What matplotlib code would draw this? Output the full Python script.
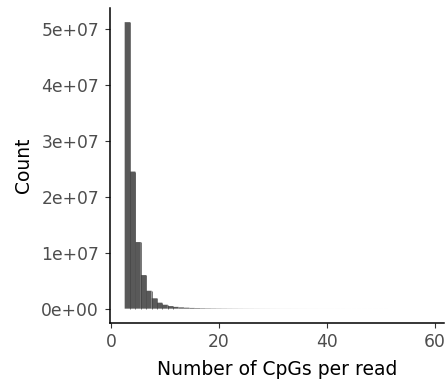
import matplotlib
matplotlib.use("Agg")
import matplotlib.pyplot as plt

plt.rcParams['font.family'] = ['DejaVu Sans']

# CpGs per read (bin centres) and read counts
cpg_bins = list(range(3, 59))
read_counts = [
    5.12e7, 2.45e7, 1.19e7, 6.0e6, 3.2e6, 1.85e6, 1.07e6, 7.0e5, 4.6e5, 3.2e5,
    2.3e5, 1.7e5, 1.3e5, 1.0e5, 8.0e4, 6.4e4, 5.2e4, 4.3e4, 3.6e4, 3.0e4,
    2.5e4, 2.1e4, 1.8e4, 1.5e4, 1.3e4, 1.1e4, 9.5e3, 8.2e3, 7.0e3, 6.0e3,
    5.2e3, 4.5e3, 3.9e3, 3.4e3, 2.9e3, 2.5e3, 2.2e3, 1.9e3, 1.6e3, 1.4e3,
    1.2e3, 1.0e3, 880, 760, 650, 560, 480, 410, 350, 300,
    260, 220, 190, 160, 140, 120,
]

y_ticks = [0, 1e7, 2e7, 3e7, 4e7, 5e7]
y_labels = ['0e+00', '1e+07', '2e+07', '3e+07', '4e+07', '5e+07']
x_ticks = [0, 20, 40, 60]

fig = plt.figure(figsize=(4.47, 3.82), dpi=100)
ax = fig.add_axes([0.245, 0.1545, 0.749, 0.825])

bars = ax.bar(cpg_bins, read_counts, width=1.0, color='#595959', linewidth=0)
for b in bars:
    b.set_snap(False)
# thin darker separators between the tall bins
ax.vlines([b + 0.5 for b in cpg_bins[:9]], 0, read_counts[:9],
          color='#404040', linewidth=0.5)

ax.set_xlim(-0.31, 61.8)
ax.set_ylim(-0.256e7, 5.376e7)
ax.set_yticks(y_ticks)
ax.set_yticklabels(y_labels)
ax.set_xticks(x_ticks)

for side in ['top', 'right']:
    ax.spines[side].set_visible(False)
for side in ['left', 'bottom']:
    ax.spines[side].set_linewidth(1.1)
    ax.spines[side].set_color('black')

ax.tick_params(axis='both', direction='out', length=3.5, width=0.8,
               color='#333333', labelcolor='#4d4d4d', labelsize=12.3)
ax.tick_params(axis='y', pad=4)
ax.tick_params(axis='x', pad=3.5)

ax.set_xlabel('Number of CpGs per read', fontsize=13.5, labelpad=7)
ax.set_ylabel('Count', fontsize=13.5, labelpad=6)

fig.savefig('out.png', dpi=100)
